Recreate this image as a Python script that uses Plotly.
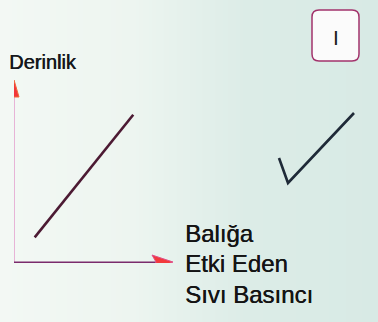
import plotly.graph_objects as go

W, H = 378, 322

# Fish pressure vs depth: straight-line relation
pressure = [1.3, 7.5]
depth = [1.4, 8.1]

y_title = "Derinlik"
x_title_lines = ["Balığa", "Etki Eden", "Sıvı Basıncı"]
option_label = "I"

# paper tint, left to right
bg_stops = [0.0, 0.35, 0.65, 1.0]
bg_colors = ["#f3f8f4", "#edf5f0", "#dcece7", "#d8eae5"]

# axis frame, in pixels of the 378x322 canvas
X0_PX, X1_PX = 14, 173
Y0_PX, Y1_PX = 263, 80


def px(x):
    return x / W


def py(y):
    return 1 - y / H


fig = go.Figure()

# soft paper background spanning the whole canvas
fig.add_trace(go.Heatmap(
    x=bg_stops, y=[0, 1], z=[bg_stops, bg_stops],
    colorscale=[[s, c] for s, c in zip(bg_stops, bg_colors)],
    zsmooth="best", showscale=False, hoverinfo="skip",
    xaxis="x", yaxis="y",
))

fig.add_trace(go.Scatter(
    x=pressure, y=depth, mode="lines",
    line=dict(color="#4c1a33", width=2.6),
    hoverinfo="skip", showlegend=False, xaxis="x2", yaxis="y2",
))

shapes = []
# vertical axis (depth): thin pink line with a red head
shapes.append(dict(type="line", xref="x2", yref="y2", x0=0, x1=0, y0=0, y1=9.2,
                   line=dict(color="#e4a2cf", width=1.6)))
shapes.append(dict(type="path", xref="x2", yref="y2", xsizemode="pixel", ysizemode="pixel",
                   xanchor=0, yanchor=10, path="M -5 -17 L 0 0 L 5 -17 Z",
                   fillcolor="#f2363a", line=dict(color="#f06a3a", width=1)))
# horizontal axis (pressure): purple line over an orange stripe, red head
shapes.append(dict(type="line", xref="x2", yref="y2", ysizemode="pixel", yanchor=0,
                   x0=0, x1=9.0, y0=-1.5, y1=-1.5,
                   line=dict(color="#f2b648", width=2)))
shapes.append(dict(type="line", xref="x2", yref="y2", ysizemode="pixel", yanchor=0,
                   x0=0, x1=9.0, y0=0.5, y1=0.5,
                   line=dict(color="#7a2b6c", width=2)))
shapes.append(dict(type="path", xref="x2", yref="y2", xsizemode="pixel", ysizemode="pixel",
                   xanchor=10, yanchor=0, path="M -21 8 L 0 1 L -21 -7 L -17 1 Z",
                   fillcolor="#f23a3c", line=dict(color="#e0508a", width=1)))


def rounded_box(x0, y0, x1, y1, r):
    pts = [
        f"M {px(x0 + r)} {py(y0)}",
        f"L {px(x1 - r)} {py(y0)}",
        f"Q {px(x1)} {py(y0)} {px(x1)} {py(y0 + r)}",
        f"L {px(x1)} {py(y1 - r)}",
        f"Q {px(x1)} {py(y1)} {px(x1 - r)} {py(y1)}",
        f"L {px(x0 + r)} {py(y1)}",
        f"Q {px(x0)} {py(y1)} {px(x0)} {py(y1 - r)}",
        f"L {px(x0)} {py(y0 + r)}",
        f"Q {px(x0)} {py(y0)} {px(x0 + r)} {py(y0)} Z",
    ]
    return " ".join(pts)


shapes.append(dict(type="path", xref="paper", yref="paper",
                   path=rounded_box(312, 10, 359, 61, 7),
                   fillcolor="#fbfbfb", line=dict(color="#a3336c", width=1.5)))

# hand-drawn tick mark
tick = [(279, 158), (288, 183), (354, 113)]
shapes.append(dict(type="path", xref="paper", yref="paper",
                   path="M " + " L ".join(f"{px(a)} {py(b)}" for a, b in tick),
                   line=dict(color="#1f2a38", width=2.6)))

annotations = [
    dict(text=y_title, x=px(8), y=py(61.5), xref="paper", yref="paper",
         xanchor="left", yanchor="middle", showarrow=False, borderpad=0,
         font=dict(family="Liberation Sans, Arial, sans-serif", size=20,
                   color="#15181c", shadow="0.6px 0 0 #15181c")),
    dict(text=option_label, x=px(336), y=py(37.5), xref="paper", yref="paper",
         xanchor="center", yanchor="middle", showarrow=False, borderpad=0,
         font=dict(family="Liberation Sans, Arial, sans-serif", size=21, color="#1c1c1c")),
]
for label, yc in zip(x_title_lines, [233.5, 263, 294]):
    annotations.append(dict(text=label, x=px(184), y=py(yc), xref="paper", yref="paper",
                            xanchor="left", yanchor="middle", showarrow=False, borderpad=0,
                            font=dict(family="Liberation Sans, Arial, sans-serif",
                                      size=24, color="#141414",
                                      shadow="0.4px 0 0 #141414")))

fig.update_layout(
    width=W, height=H,
    margin=dict(l=0, r=0, t=0, b=0),
    paper_bgcolor="#e6ece9",
    plot_bgcolor="rgba(0,0,0,0)",
    xaxis=dict(domain=[0, 1], range=[0, 1], visible=False, fixedrange=True),
    yaxis=dict(domain=[0, 1], range=[0, 1], visible=False, fixedrange=True),
    xaxis2=dict(domain=[px(X0_PX), px(X1_PX)], range=[0, 10], visible=False,
                fixedrange=True, anchor="y2"),
    yaxis2=dict(domain=[py(Y0_PX), py(Y1_PX)], range=[0, 10], visible=False,
                fixedrange=True, anchor="x2"),
    shapes=shapes,
    annotations=annotations,
    showlegend=False,
)

fig.write_html("out.html")
